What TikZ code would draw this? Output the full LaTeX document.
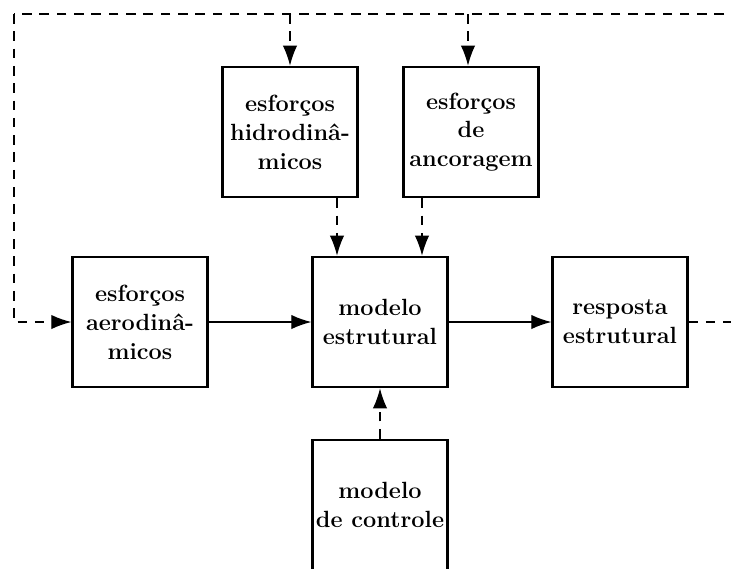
\documentclass[tikz,border=0pt]{standalone}
\usepackage{fontspec}
\usetikzlibrary{arrows.meta}

\begin{document}
\begin{tikzpicture}[
			x=0.52pt, y=-0.52pt,
			font=\fontsize{12.2}{15}\selectfont\bfseries,
			bloco/.style={draw, line width=1.3pt, minimum width=70pt, minimum height=67.6pt,
				inner sep=0pt, align=center},
			fluxo/.style={line width=0.75pt, -{Latex[length=10.5pt, width=7.5pt]}},
			retro/.style={fluxo, dash pattern=on 5pt off 4pt}
			]
			\useasboundingbox (0,0) rectangle (731,570);
			\clip (0,0) rectangle (731,568);

			\node[bloco] (aero) at (140,322) {esforços\\aerodinâ-\\micos};
			\node[bloco] (estr) at (380,322) {modelo\\estrutural};
			\node[bloco] (resp) at (620,322) {resposta\\estrutural};
			\node[bloco] (hidro) at (290,132) {esforços\\hidrodinâ-\\micos};
			\node[bloco] (ancor) at (471,132) {esforços\\de\\ancoragem};
			\node[bloco] (ctrl) at (380,505) {modelo\\de controle};

			% laco de realimentacao
			\coordinate (dir) at (760,322);
			\coordinate (topo) at (760,14);
			\coordinate (esq) at (14,14);
			\coordinate (hidroin) at (290,14);
			\coordinate (ancorin) at (468,14);

			\draw[fluxo] (aero) -- (estr);
			\draw[fluxo] (estr) -- (resp);
			\draw[retro, -] (resp) -- (dir) -- (topo) -- (esq);
			\draw[retro] (esq) |- (aero);
			\draw[retro] (hidroin) -- (hidroin |- hidro.north);
			\draw[retro] (ancorin) -- (ancorin |- ancor.north);
			\draw[retro] (hidro.south -| 337,0) -- (337,0 |- estr.north);
			\draw[retro] (ancor.south -| 422,0) -- (422,0 |- estr.north);
			\draw[retro] (ctrl) -- (estr);
		\end{tikzpicture}
\end{document}
